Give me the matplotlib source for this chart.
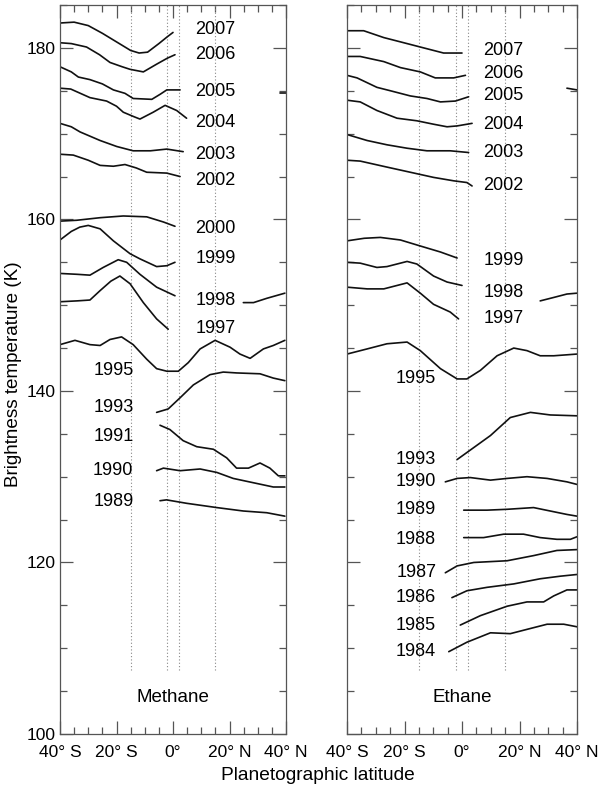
# Titan: brightness temperature vs latitude, methane and ethane
import matplotlib
matplotlib.use("Agg")
import matplotlib.pyplot as plt
from matplotlib.ticker import FixedLocator, MultipleLocator

plt.rcParams['font.family'] = ['Liberation Sans', 'DejaVu Sans']

# --- methane curves (latitude, K) ---
m2007_lat = [-40, -35, -30, -25, -20, -15, -12, -9, -5, -2, 0]
m2007_t = [182.9, 183.0, 182.6, 181.7, 180.7, 179.7, 179.4, 179.5, 180.5, 181.3, 181.8]
m2006_lat = [-40, -36, -30.6, -26, -22.3, -18, -15.2, -10.5, -5.8, -2, 0.7]
m2006_t = [180.6, 180.5, 180.1, 179.2, 178.3, 177.8, 177.5, 177.2, 178.1, 178.8, 179.2]
m2005_lat = [-40, -36, -33.5, -29.4, -25, -21.1, -17, -14.1, -7.5, -4.5, -2.2, 2.5]
m2005_t = [177.8, 177.2, 176.6, 176.3, 175.8, 175.1, 174.7, 174.1, 174.0, 174.6, 175.1, 175.1]
m2004_lat = [-40, -36.2, -29.4, -23.5, -20, -17.6, -14, -11.7, -7.0, -2.8, 1.3, 4.8]
m2004_t = [175.3, 175.2, 174.2, 173.8, 173.2, 172.5, 172.0, 171.7, 172.5, 173.3, 172.7, 171.8]
m2003_lat = [-40, -36, -32.9, -25.8, -19.9, -14.1, -8, -2.2, 3.6]
m2003_t = [171.2, 170.8, 170.2, 169.2, 168.5, 168.0, 168.0, 168.2, 167.9]
m2002_lat = [-40, -35.3, -30, -25.8, -21.1, -17.0, -13, -9.3, -2.2, 2.5]
m2002_t = [167.6, 167.5, 166.9, 166.3, 166.2, 166.4, 166.0, 165.5, 165.4, 165.0]
m2000_lat = [-40, -34.1, -25.8, -17.6, -9.3, -3.4, 0.7]
m2000_t = [159.8, 159.9, 160.2, 160.4, 160.3, 159.7, 159.2]
m1999_lat = [-40, -36, -33, -30.0, -25.8, -21.1, -15.2, -11.7, -5.8, -2.2, 0.7]
m1999_t = [157.6, 158.6, 159.1, 159.3, 158.9, 157.5, 156.0, 155.4, 154.5, 154.6, 155.0]
m1998_lat = [-40, -34, -29.4, -24.7, -19.4, -16.4, -11.7, -5.8, 0.7]
m1998_t = [153.7, 153.6, 153.5, 154.4, 155.3, 155.0, 153.6, 152.1, 151.1]
m1998b_lat = [24.9, 28.5, 33.2, 39.6]
m1998b_t = [150.3, 150.3, 150.8, 151.4]
m1997_lat = [-40, -34, -29.4, -25.8, -22, -18.8, -15.2, -10.5, -5.8, -1.7]
m1997_t = [150.4, 150.5, 150.6, 151.7, 152.8, 153.4, 152.5, 150.3, 148.4, 147.2]
m1995_lat = [-40, -34.7, -29.4, -25.8, -22.3, -18.2, -14.1, -9.3, -5.8, -2.2, 1.9,
             5.4, 9.6, 14.9, 20.2, 23.7, 27.3, 32.0, 35.5, 39.6]
m1995_t = [145.4, 145.9, 145.4, 145.3, 146.0, 146.3, 145.4, 143.7, 142.6, 142.3, 142.3,
           143.3, 144.9, 145.9, 145.1, 144.3, 143.8, 144.9, 145.3, 145.9]
m1993_lat = [-5.8, -1.7, 2.5, 7.2, 13.1, 17.8, 22.5, 30.8, 35.5, 39.6]
m1993_t = [137.5, 137.9, 139.2, 140.7, 141.9, 142.2, 142.1, 142.0, 141.5, 141.2]
m1991_lat = [-4.6, -1.1, 3.6, 8.4, 14.3, 19.0, 22.5, 26.7, 30.8, 34.3, 37.3, 39.6]
m1991_t = [136.0, 135.5, 134.2, 133.5, 133.2, 132.2, 131.0, 131.0, 131.6, 131.0, 130.1, 130.1]
m1990_lat = [-5.8, -3.4, 2.5, 9.6, 15.5, 21.3, 28.4, 35.5, 39.6]
m1990_t = [130.7, 131.0, 130.7, 130.9, 130.5, 129.8, 129.3, 128.8, 128.8]
m1989_lat = [-4.6, -2.3, 4.8, 15.5, 24.9, 33.2, 39.6]
m1989_t = [127.2, 127.3, 126.9, 126.4, 126.0, 125.8, 125.4]
m2004b_lat = [38.0, 40.0]
m2004b_t = [174.7, 174.7]

# --- ethane curves (latitude, K) ---
e2007_lat = [-40, -34.2, -27.2, -21.4, -14.5, -6.4, 0]
e2007_t = [182.0, 182.0, 181.2, 180.7, 180.1, 179.4, 179.4]
e2006_lat = [-40, -35.4, -27.2, -21.4, -14.5, -9.3, -2.9, 1.2]
e2006_t = [179.0, 179.0, 178.4, 177.7, 177.2, 176.5, 176.5, 176.8]
e2005_lat = [-40, -36.5, -29.6, -24.9, -18.0, -12.2, -7.5, -2.3, 2.3]
e2005_t = [176.8, 176.5, 175.4, 175.0, 174.4, 174.1, 173.7, 173.8, 174.3]
e2005b_lat = [36.5, 40.0]
e2005b_t = [175.3, 175.1]
e2004_lat = [-40, -35.4, -29.6, -22.6, -15.7, -9.9, -5.2, -1.7, 3.5]
e2004_t = [173.9, 173.7, 172.7, 171.8, 171.5, 171.1, 170.8, 170.9, 171.2]
e2003_lat = [-40, -33.0, -26.1, -19.1, -12.2, -4.1, 2.3]
e2003_t = [169.9, 169.2, 168.7, 168.3, 168.0, 168.0, 167.8]
e2002_lat = [-40, -35.4, -26.1, -18.0, -9.9, -2.9, 1.7, 3.5]
e2002_t = [166.9, 166.8, 166.1, 165.5, 164.9, 164.5, 164.3, 163.9]
e1999_lat = [-40, -34, -28.4, -21.4, -14.5, -7.5, -1.7]
e1999_t = [157.5, 157.8, 157.9, 157.6, 156.9, 156.2, 155.5]
e1998_lat = [-40, -35.4, -29.6, -26.1, -19.1, -15.7, -9.9, -5.2, 0]
e1998_t = [155.0, 154.9, 154.4, 154.5, 155.1, 154.8, 153.4, 152.7, 152.3]
e1998b_lat = [27.2, 31.9, 36.5, 40.0]
e1998b_t = [150.5, 150.9, 151.3, 151.4]
e1997_lat = [-40, -33.0, -27.2, -19.1, -14.5, -9.9, -4.1, -1.2]
e1997_t = [152.1, 151.9, 151.9, 152.6, 151.4, 150.1, 149.2, 148.4]
e1995_lat = [-40, -33.0, -26.1, -19.1, -14.5, -7.5, -1.7, 1.7, 6.4, 12.2, 18.0,
             22.6, 27.2, 31.9, 40.0]
e1995_t = [144.3, 144.9, 145.5, 145.7, 144.7, 142.6, 141.4, 141.4, 142.4, 144.1, 145.0,
           144.7, 144.1, 144.1, 144.3]
e1993_lat = [-1.7, 4.1, 9.9, 16.8, 23.8, 30.7, 40.0]
e1993_t = [132.0, 133.4, 134.8, 136.9, 137.5, 137.2, 137.1]
e1990_lat = [-5.8, -1.7, 2.9, 9.9, 15.7, 22.6, 29.6, 36.5, 40.0]
e1990_t = [129.4, 129.8, 129.9, 129.6, 129.8, 130.0, 129.8, 129.4, 129.1]
e1989_lat = [0.6, 8.7, 15.7, 24.9, 30.7, 36.5, 40.0]
e1989_t = [126.1, 126.1, 126.2, 126.4, 126.0, 125.6, 125.4]
e1988_lat = [0.6, 7.5, 14.5, 21.4, 27.2, 33.0, 37.7, 40.0]
e1988_t = [122.9, 122.9, 123.3, 123.3, 122.9, 122.7, 122.7, 123.0]
e1987_lat = [-5.8, -1.7, 4.1, 15.7, 24.9, 33.0, 40.0]
e1987_t = [118.8, 119.6, 120.0, 120.2, 120.8, 121.4, 121.5]
e1986_lat = [-3.5, 1.7, 8.7, 18.0, 27.2, 34.2, 40.0]
e1986_t = [115.9, 116.7, 117.1, 117.5, 118.1, 118.4, 118.6]
e1985_lat = [-0.6, 6.4, 15.7, 22.6, 28.4, 31.9, 36.5, 40.0]
e1985_t = [112.7, 113.8, 114.9, 115.4, 115.4, 116.1, 116.8, 116.8]
e1984_lat = [-4.6, 1.7, 9.9, 16.8, 22.6, 29.6, 35.4, 40.0]
e1984_t = [109.6, 110.7, 111.8, 111.7, 112.2, 112.8, 112.8, 112.5]

# year labels
m_years = ['2007', '2006', '2005', '2004', '2003', '2002', '2000', '1999', '1998', '1997',
           '1995', '1993', '1991', '1990', '1989']
m_label_t = [182.1, 179.2, 174.9, 171.3, 167.6, 164.5, 158.9, 155.4, 150.6, 147.3,
             142.4, 138.1, 134.7, 130.7, 127.1]
e_years = ['2007', '2006', '2005', '2004', '2003', '2002', '1999', '1998', '1997',
           '1995', '1993', '1990', '1989', '1988', '1987', '1986', '1985', '1984']
e_label_t = [179.7, 177.0, 174.4, 171.1, 167.8, 163.9, 155.2, 151.5, 148.5,
             141.5, 132.0, 129.4, 126.2, 122.7, 118.8, 115.9, 112.7, 109.6]

x_ticks = [-40, -20, 0, 20, 40]
x_ticklabels = ['40° S', '20° S', '0°', '20° N', '40° N']
dotted_lat = [-15, -2, 2, 15]

methane = [(m2007_lat, m2007_t), (m2006_lat, m2006_t), (m2005_lat, m2005_t),
           (m2004_lat, m2004_t), (m2004b_lat, m2004b_t), (m2003_lat, m2003_t),
           (m2002_lat, m2002_t), (m2000_lat, m2000_t), (m1999_lat, m1999_t),
           (m1998_lat, m1998_t), (m1998b_lat, m1998b_t), (m1997_lat, m1997_t),
           (m1995_lat, m1995_t), (m1993_lat, m1993_t), (m1991_lat, m1991_t),
           (m1990_lat, m1990_t), (m1989_lat, m1989_t)]
ethane = [(e2007_lat, e2007_t), (e2006_lat, e2006_t), (e2005_lat, e2005_t),
          (e2005b_lat, e2005b_t), (e2004_lat, e2004_t), (e2003_lat, e2003_t),
          (e2002_lat, e2002_t), (e1999_lat, e1999_t), (e1998_lat, e1998_t),
          (e1998b_lat, e1998b_t), (e1997_lat, e1997_t), (e1995_lat, e1995_t),
          (e1993_lat, e1993_t), (e1990_lat, e1990_t), (e1989_lat, e1989_t),
          (e1988_lat, e1988_t), (e1987_lat, e1987_t), (e1986_lat, e1986_t),
          (e1985_lat, e1985_t), (e1984_lat, e1984_t)]

FS = 12.5
fig = plt.figure(figsize=(6, 7.88), dpi=100)
ax1 = fig.add_axes([60 / 600, 54 / 788, 226 / 600, 729 / 788])
ax2 = fig.add_axes([347 / 600, 54 / 788, 230 / 600, 729 / 788])


def setup(ax, name, curves, years, label_t, split_year, right_x, left_x):
    ax.set_xlim(-40, 40)
    ax.set_ylim(100, 185)
    ax.vlines(dotted_lat, 107.5, 185, colors='#888888', linestyles=(0, (1, 2)), lw=0.8)
    for lat, t in curves:
        ax.plot(lat, t, color='#111111', lw=1.2, solid_capstyle='round')
    for i, (yr, t) in enumerate(zip(years, label_t)):
        if i < split_year:
            ax.text(right_x, t, yr, ha='center', va='center', fontsize=13)
        else:
            ax.text(left_x, t, yr, ha='right', va='center', fontsize=13)
    ax.text(0, 104.2, name, ha='center', va='center', fontsize=13.5)
    ax.xaxis.set_major_locator(FixedLocator(x_ticks))
    ax.set_xticklabels(x_ticklabels, fontsize=FS)
    ax.xaxis.set_minor_locator(MultipleLocator(5))
    ax.yaxis.set_major_locator(MultipleLocator(20))
    ax.yaxis.set_minor_locator(MultipleLocator(5))
    ax.tick_params(which='both', direction='in', top=True, right=True, color='#555555',
                   labelsize=FS)
    ax.tick_params(axis='x', pad=8)
    ax.tick_params(axis='y', pad=3)
    ax.tick_params(which='major', length=9.5, width=0.9)
    ax.tick_params(which='minor', length=5, width=0.9)
    for s in ax.spines.values():
        s.set_color('#555555')
        s.set_linewidth(0.9)


setup(ax1, 'Methane', methane, m_years, m_label_t, 10, 15, -14)
setup(ax2, 'Ethane', ethane, e_years, e_label_t, 9, 14.5, -9)
ax2.tick_params(labelleft=False)

fig.text(0.0225, 0.525, 'Brightness temperature (K)', rotation=90, ha='center', va='center',
         fontsize=13.6)
fig.text(0.53, 0.016, 'Planetographic latitude', ha='center', va='center', fontsize=13.8)

fig.savefig('out.png', dpi=100)
